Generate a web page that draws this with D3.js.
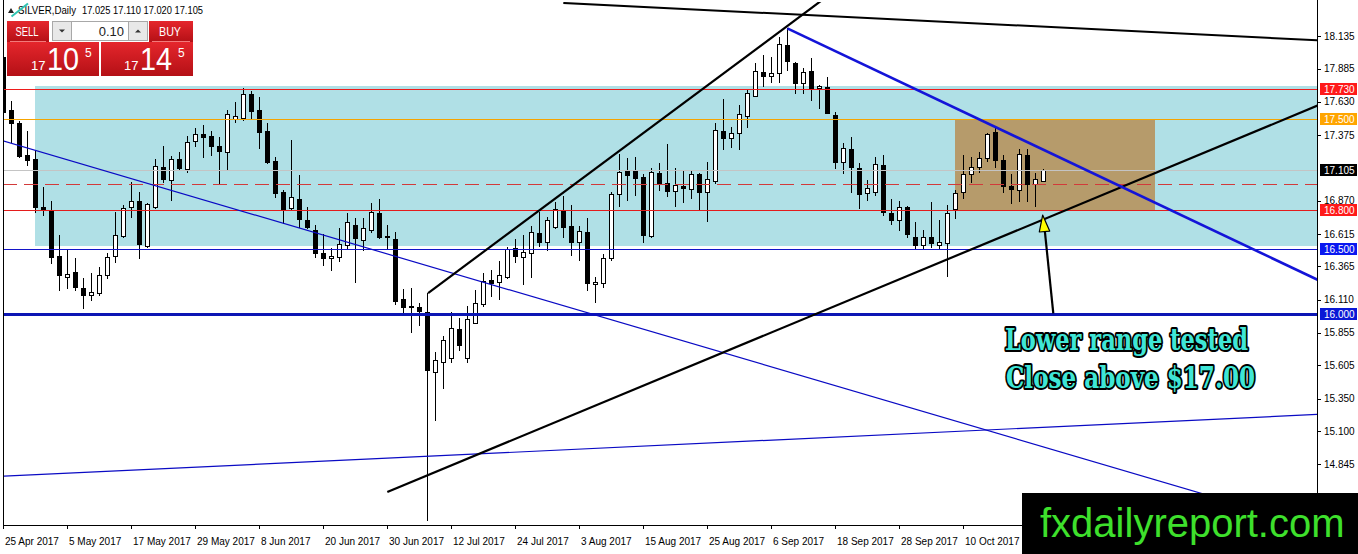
<!DOCTYPE html>
<html>
<head>
<meta charset="utf-8">
<script src="https://cdn.jsdelivr.net/npm/d3@7"></script>
<style>
  body { margin: 0; background: #fff; }
  svg { display: block; font-family: "Liberation Sans", Arial, sans-serif; }
</style>
</head>
<body>
<div id="chart"></div>
<script>
// ── DATA ──────────────────────────────────────────────────────────────────────
const firstBar = new Date(2017, 3, 25);   // 25 Apr 2017, one bar per weekday

const opens = [
  17.974,17.567,17.469,17.221,17.190,16.822,16.791,16.445,16.286,16.323,
  16.200,16.146,16.161,16.300,16.445,16.599,16.822,16.868,16.525,16.822,
  17.129,17.029,17.190,17.114,17.331,17.382,17.367,17.290,17.246,17.495,
  17.508,17.690,17.567,17.408,17.175,16.939,16.812,16.883,16.722,16.645,
  16.471,16.428,16.440,16.530,16.684,16.568,16.645,16.773,16.599,16.574,
  16.113,16.060,16.056,16.015,15.555,15.631,15.662,15.885,15.662,15.933,
  16.074,16.261,16.243,16.286,16.505,16.440,16.466,16.620,16.555,16.670,
  16.799,16.676,16.555,16.627,16.230,16.240,16.428,16.919,17.101,17.098,
  17.050,16.599,17.085,17.004,16.945,16.985,16.960,17.073,16.935,17.024,
  17.405,17.349,17.388,17.523,17.677,17.856,17.830,17.849,18.066,17.930,
  17.772,17.866,17.733,17.746,17.528,17.165,17.265,17.119,16.927,16.935,
  17.144,16.773,16.722,16.820,16.591,16.530,16.589,16.530,16.548,16.806,
  16.935,17.073,17.127,17.200,17.400,17.183,16.981,16.950,17.221,16.998,
  17.025
];
const highs = [
  18.028,17.636,17.482,17.405,17.252,16.975,16.868,16.607,16.499,16.430,
  16.276,16.315,16.361,16.468,16.783,16.837,17.014,16.937,16.852,17.190,
  17.290,17.214,17.244,17.367,17.429,17.452,17.405,17.359,17.567,17.630,
  17.736,17.715,17.664,17.465,17.208,16.952,17.336,17.068,16.824,16.684,
  16.614,16.505,16.658,16.773,16.735,16.735,16.850,16.883,16.684,16.632,
  16.190,16.197,16.082,16.161,15.708,15.831,16.015,15.969,16.061,16.184,
  16.313,16.338,16.407,16.512,16.576,16.607,16.676,16.786,16.743,16.862,
  16.906,16.837,16.676,16.735,16.286,16.458,16.939,17.229,17.196,17.208,
  17.075,17.119,17.157,17.306,17.119,17.106,17.106,17.081,17.170,17.469,
  17.651,17.438,17.605,17.728,17.925,17.989,17.976,18.130,18.194,17.938,
  17.887,17.964,17.759,17.823,17.551,17.311,17.362,17.157,17.029,17.208,
  17.221,16.881,16.870,16.829,16.704,16.645,16.858,16.722,16.837,16.952,
  17.221,17.208,17.246,17.392,17.426,17.221,17.075,17.265,17.265,17.080,
  17.110
];
const lows = [
  17.521,17.321,17.206,17.144,16.783,16.760,16.392,16.184,16.200,16.184,
  16.046,16.108,16.146,16.276,16.399,16.591,16.745,16.430,16.515,16.814,
  17.014,16.876,17.106,17.091,17.290,17.206,17.221,17.006,17.106,17.477,
  17.490,17.495,17.273,17.157,16.896,16.697,16.799,16.670,16.658,16.440,
  16.376,16.338,16.407,16.505,16.248,16.492,16.632,16.581,16.505,16.077,
  16.018,15.864,15.916,14.418,15.186,15.432,15.631,15.724,15.631,15.929,
  16.064,16.141,16.113,16.274,16.397,16.228,16.286,16.525,16.492,16.658,
  16.589,16.453,16.415,16.184,16.094,16.210,16.415,16.829,16.876,16.914,
  16.555,16.594,16.952,16.909,16.832,16.862,16.889,16.804,16.714,17.008,
  17.265,17.285,17.267,17.434,17.674,17.751,17.784,17.784,17.874,17.695,
  17.695,17.644,17.580,17.541,17.121,17.081,16.939,16.812,16.876,16.914,
  16.760,16.691,16.645,16.594,16.505,16.505,16.517,16.505,16.294,16.735,
  16.889,17.016,17.093,17.177,17.131,16.939,16.855,16.870,16.870,16.829,
  17.020
];
const closes = [
  17.551,17.467,17.216,17.183,16.822,16.799,16.438,16.300,16.307,16.207,
  16.146,16.169,16.300,16.438,16.607,16.814,16.868,16.538,16.843,17.137,
  17.037,17.190,17.121,17.321,17.382,17.359,17.290,17.252,17.536,17.521,
  17.690,17.561,17.400,17.170,16.927,16.806,16.896,16.727,16.670,16.471,
  16.428,16.445,16.538,16.704,16.581,16.658,16.781,16.589,16.589,16.102,
  16.056,16.054,16.025,15.570,15.647,15.800,15.892,15.762,15.962,16.082,
  16.256,16.240,16.300,16.497,16.448,16.474,16.627,16.551,16.722,16.804,
  16.666,16.555,16.637,16.236,16.243,16.428,16.919,17.093,17.068,17.047,
  16.607,17.093,17.004,16.947,16.991,16.970,17.073,16.935,17.035,17.413,
  17.349,17.392,17.534,17.695,17.866,17.830,17.849,18.074,17.945,17.776,
  17.861,17.728,17.753,17.546,17.165,17.273,17.127,16.919,16.965,17.150,
  16.781,16.722,16.824,16.612,16.530,16.594,16.543,16.555,16.773,16.927,
  17.073,17.131,17.200,17.380,17.183,16.985,16.958,17.227,16.998,17.035,
  17.105
];

// price scale labels shown on the right
const priceTicks = [18.135,17.885,17.630,17.375,16.870,16.615,16.365,16.110,
                    15.855,15.605,15.350,15.100,14.845,14.590];
// horizontal levels: 17.730 / 17.500 / 16.800 / 16.500 / 16.000
const levelValues = [17.730, 17.500, 16.800, 16.500, 16.000];
const dashedLevel = 17.00;

// zones: [fromBar, toBar, topPrice, bottomPrice]
const rangeZone    = [4, 175, 17.751, 16.522];
const breakoutZone = [119, 144, 17.500, 16.800];

// trend lines: [bar1, price1, bar2, price2]
const topLine      = [70, 18.389, 163.7, 18.104];
const channelUp    = [53.1, 16.161, 99, 18.258];
const channelLow   = [48, 14.633, 163.7, 17.586];
const blueThick    = [98, 18.194, 163.7, 16.280];
const blueThinDown = [-0.4, 17.336, 149.6, 14.625];
const blueThinUp   = [-0.4, 14.753, 163.7, 15.227];

// arrow: shaft end, shaft start, head tip, head base left/right  [bar, price]
const arrowShaft = [[131.25, 16.005], [130.2, 16.632]];
const arrowHead  = [[129.92, 16.760], [129.5, 16.630], [130.8, 16.637]];

const noteLines = ["Lower range tested", "Close above $17.00"];
const noteAnchors = [[140.4, 15.724], [140.9, 15.432]];

// ── LAYOUT ────────────────────────────────────────────────────────────────────
const W = 1358, H = 554;
const plotL = 3, plotR = 1317, plotT = 2, plotB = 525;
const watermarkX = 1022;

const dates = [];
for (let d = new Date(firstBar); dates.length < opens.length; d = d3.timeDay.offset(d, 1)) {
  if (d.getDay() !== 0 && d.getDay() !== 6) dates.push(new Date(d));
}
const bars = dates.map((date, i) => ({ i, date, o: opens[i], h: highs[i], l: lows[i], c: closes[i] }));

const x = d3.scaleLinear([0, 130], [3.3, 1043.3]);
const y = d3.scaleLinear([14.3794, 18.4117], [plotB, 0]);
const fmt = d3.format(".3f");
const fmtDate = d3.timeFormat("%-d %b %Y");

const svg = d3.select("#chart").append("svg").attr("width", W).attr("height", H);
svg.append("rect").attr("width", W).attr("height", H).attr("fill", "#fff");

const defs = svg.append("defs");
defs.append("clipPath").attr("id", "plot").append("rect")
  .attr("x", plotL + 1).attr("y", plotT).attr("width", plotR - plotL - 1).attr("height", plotB - plotT);
const grad = defs.append("linearGradient").attr("id", "red")
  .attr("x1", 0).attr("x2", 0).attr("y1", 0).attr("y2", 1);
grad.append("stop").attr("offset", "0%").attr("stop-color", "#e5262c");
grad.append("stop").attr("offset", "100%").attr("stop-color", "#b41016");

const plot = svg.append("g").attr("clip-path", "url(#plot)");

// ── ZONES ─────────────────────────────────────────────────────────────────────
function zone(z, fill) {
  plot.append("rect")
    .attr("x", Math.round(x(z[0]))).attr("y", Math.round(y(z[2])))
    .attr("width", Math.round(x(z[1]) - x(z[0])))
    .attr("height", Math.round(y(z[3]) - y(z[2])))
    .attr("fill", fill);
}
zone(rangeZone, "#b0e0e6");
zone(breakoutZone, "#b69b6b");

// ── CANDLES ───────────────────────────────────────────────────────────────────
const cx = d => Math.round(x(d.i));
plot.append("g").selectAll("line").data(bars).join("line")
  .attr("x1", d => cx(d) + 0.5).attr("x2", d => cx(d) + 0.5)
  .attr("y1", d => Math.round(y(d.h))).attr("y2", d => Math.round(y(d.l)) + 1)
  .attr("stroke", "#000").attr("stroke-width", 1);

plot.append("g").selectAll("rect").data(bars).join("rect")
  .attr("x", d => cx(d) - 1.5)
  .attr("y", d => Math.round(y(Math.max(d.o, d.c))) + 0.5)
  .attr("width", 4)
  .attr("height", d => Math.max(0, Math.round(y(Math.min(d.o, d.c))) - Math.round(y(Math.max(d.o, d.c)))))
  .attr("fill", d => d.c >= d.o ? "#fff" : "#000")
  .attr("stroke", "#000").attr("stroke-width", 1);

// ── HORIZONTAL LEVELS ─────────────────────────────────────────────────────────
const bid = closes[closes.length - 1];
const levelColor = ["#ee1c1c", "#f5a400", "#e41c1c", "#1414c8", "#0c16b4"];
const levelWidth = [1, 1, 1, 1.2, 3];
const boxColor   = ["#ff1a1a", "#ffa500", "#ff1a1a", "#0a18f0", "#0a18d6"];

function hline(p, color, w, dash) {
  const yy = Math.round(y(p)) + (w % 2 ? 0.5 : 0);
  plot.append("line").attr("x1", plotL).attr("x2", plotR).attr("y1", yy).attr("y2", yy)
    .attr("stroke", color).attr("stroke-width", w)
    .attr("stroke-dasharray", dash || null);
}
hline(bid, "#c4c4c4", 1);
hline(dashedLevel, "#d23a3a", 1, "14,7");
levelValues.forEach((p, k) => hline(p, levelColor[k], levelWidth[k]));

// ── TREND LINES ───────────────────────────────────────────────────────────────
function trend(t, color, w, extend) {
  const x1 = x(t[0]), y1 = y(t[1]), x2 = x(t[2]), y2 = y(t[3]);
  const s = (y2 - y1) / (x2 - x1);
  const xe = extend ? plotR + 20 : x2;
  plot.append("line").attr("x1", x1).attr("y1", y1)
    .attr("x2", xe).attr("y2", y1 + s * (xe - x1))
    .attr("stroke", color).attr("stroke-width", w);
}
trend(blueThinDown, "#0a0ac4", 1.2, true);
trend(blueThinUp, "#0a0ac4", 1.2, true);
trend(topLine, "#000", 2, true);
trend(channelUp, "#000", 2.2, true);
trend(channelLow, "#000", 2.2, true);
trend(blueThick, "#1414d8", 2.6, true);

// ── ARROW + NOTE ──────────────────────────────────────────────────────────────
plot.append("line")
  .attr("x1", x(arrowShaft[0][0])).attr("y1", y(arrowShaft[0][1]))
  .attr("x2", x(arrowShaft[1][0])).attr("y2", y(arrowShaft[1][1]))
  .attr("stroke", "#000").attr("stroke-width", 2.2);
plot.append("path")
  .attr("d", d3.line()(arrowHead.map(p => [x(p[0]), y(p[1])])) + "Z")
  .attr("fill", "#ffff00").attr("stroke", "#000").attr("stroke-width", 1.2)
  .attr("stroke-linejoin", "round");

svg.append("g").selectAll("text").data(noteLines).join("text")
  .attr("x", (d, k) => x(noteAnchors[k][0]))
  .attr("y", (d, k) => y(noteAnchors[k][1]))
  .attr("text-anchor", "middle")
  .attr("textLength", (d, k) => k ? 249 : 243)
  .attr("lengthAdjust", "spacingAndGlyphs")
  .style("font-family", "'DejaVu Serif', 'Liberation Serif', serif")
  .style("font-stretch", "condensed")
  .style("font-weight", "bold")
  .style("font-size", "30px")
  .style("paint-order", "stroke")
  .attr("fill", "#3fe6d6").attr("stroke", "#000")
  .attr("stroke-width", 4).attr("stroke-linejoin", "round")
  .text(d => d);

// ── FRAME & AXES ──────────────────────────────────────────────────────────────
svg.append("line").attr("x1", plotL + 0.5).attr("x2", plotL + 0.5).attr("y1", 0).attr("y2", plotB)
  .attr("stroke", "#000");
svg.append("line").attr("x1", plotR + 0.5).attr("x2", plotR + 0.5).attr("y1", 0).attr("y2", plotB + 1)
  .attr("stroke", "#000");
svg.append("line").attr("x1", plotL).attr("x2", plotR + 1).attr("y1", plotB + 0.5).attr("y2", plotB + 0.5)
  .attr("stroke", "#000");

// price axis
const pa = svg.append("g");
pa.selectAll("line").data(priceTicks).join("line")
  .attr("x1", plotR).attr("x2", plotR + 4)
  .attr("y1", d => Math.round(y(d)) + 0.5).attr("y2", d => Math.round(y(d)) + 0.5)
  .attr("stroke", "#000");
pa.selectAll("text").data(priceTicks).join("text")
  .attr("x", plotR + 7).attr("y", d => y(d) + 3.6)
  .style("font-size", "10px").attr("fill", "#000")
  .text(fmt);

// labelled levels on the axis
const tags = levelValues.map((p, k) => ({ p, bg: boxColor[k] })).concat([{ p: bid, bg: "#000" }]);
const tag = svg.append("g").selectAll("g").data(tags).join("g")
  .attr("transform", d => `translate(${plotR + 3},${Math.round(y(d.p))})`);
tag.append("rect").attr("x", 0).attr("y", -6).attr("width", 37).attr("height", 12).attr("fill", d => d.bg);
tag.append("text").attr("x", 4).attr("y", 3.6)
  .style("font-size", "10px").attr("fill", "#fff").text(d => fmt(d.p));

// time axis (labels that would sit under the watermark box are not drawn)
const dateTicks = bars.filter(d => d.i % 8 === 0 && cx(d) + 50 < watermarkX);
const ta = svg.append("g");
ta.selectAll("line").data(dateTicks).join("line")
  .attr("x1", d => cx(d) + 0.5).attr("x2", d => cx(d) + 0.5)
  .attr("y1", plotB).attr("y2", plotB + 4).attr("stroke", "#000");
ta.selectAll("text").data(dateTicks).join("text")
  .attr("x", d => cx(d) + 2).attr("y", plotB + 20)
  .style("font-size", "10px").attr("fill", "#000")
  .text(d => fmtDate(d.date));

// ── HEADER & TRADE PANEL ──────────────────────────────────────────────────────
svg.append("path").attr("d", "M8,13L14,13L11,8Z").attr("fill", "#222");
svg.append("text").attr("x", 18).attr("y", 14).style("font-size", "10px")
  .attr("textLength", 58).attr("lengthAdjust", "spacingAndGlyphs").text("SILVER,Daily");
const last = bars[bars.length - 1];
svg.append("text").attr("x", 82).attr("y", 14).style("font-size", "10px")
  .attr("textLength", 121).attr("lengthAdjust", "spacingAndGlyphs")
  .text([last.o, last.h, last.l, last.c].map(fmt).join(" "));
svg.append("line").attr("x1", 11.5).attr("y1", 16.5).attr("x2", 28).attr("y2", 3.5)
  .attr("stroke", "#2fc4b2").attr("stroke-width", 2);

const panel = svg.append("g");
[[7, 21, 42, 21], [149, 21, 44, 21], [7, 42, 92, 34], [101, 42, 92, 34]].forEach(r =>
  panel.append("rect").attr("x", r[0]).attr("y", r[1]).attr("width", r[2]).attr("height", r[3])
    .attr("fill", "url(#red)"));
panel.append("line").attr("x1", 10).attr("x2", 46).attr("y1", 41.5).attr("y2", 41.5).attr("stroke", "#f27a7a");
panel.append("line").attr("x1", 152).attr("x2", 190).attr("y1", 41.5).attr("y2", 41.5).attr("stroke", "#f27a7a");
panel.append("rect").attr("x", 52.5).attr("y", 21.5).attr("width", 95).attr("height", 19)
  .attr("fill", "#fff").attr("stroke", "#a8a8a8");
panel.append("rect").attr("x", 52.5).attr("y", 21.5).attr("width", 19).attr("height", 19)
  .attr("fill", "#e8e8e8").attr("stroke", "#a8a8a8");
panel.append("rect").attr("x", 128.5).attr("y", 21.5).attr("width", 19).attr("height", 19)
  .attr("fill", "#e8e8e8").attr("stroke", "#a8a8a8");
panel.append("path").attr("d", "M59,29.5L65,29.5L62,32.5Z").attr("fill", "#333");
panel.append("path").attr("d", "M135,32.5L141,32.5L138,29.5Z").attr("fill", "#333");
panel.append("text").attr("x", 124).attr("y", 36).attr("text-anchor", "end")
  .style("font-size", "13px").attr("fill", "#222").text("0.10");
panel.append("text").attr("x", 27).attr("y", 36).attr("text-anchor", "middle")
  .attr("textLength", 23).attr("lengthAdjust", "spacingAndGlyphs")
  .style("font-size", "13px").attr("fill", "#fff").text("SELL");
panel.append("text").attr("x", 170).attr("y", 36).attr("text-anchor", "middle")
  .attr("textLength", 22).attr("lengthAdjust", "spacingAndGlyphs")
  .style("font-size", "13px").attr("fill", "#fff").text("BUY");

function quote(x0, big) {
  panel.append("text").attr("x", x0).attr("y", 70).style("font-size", "13px")
    .attr("fill", "#fff").text("17");
  panel.append("text").attr("x", x0 + 16).attr("y", 70).style("font-size", "32px")
    .attr("textLength", 32).attr("lengthAdjust", "spacingAndGlyphs")
    .attr("fill", "#fff").text(big);
  panel.append("text").attr("x", x0 + 54).attr("y", 57).style("font-size", "12px")
    .attr("fill", "#fff").text("5");
}
quote(31, "10");
quote(124, "14");

// ── WATERMARK ─────────────────────────────────────────────────────────────────
svg.append("rect").attr("x", watermarkX).attr("y", 493).attr("width", W - watermarkX).attr("height", H - 493)
  .attr("fill", "#000");
svg.append("text").attr("x", 1040).attr("y", 537).style("font-size", "40px")
  .attr("fill", "#3ee02c").text("fxdailyreport.com");
</script>
</body>
</html>
